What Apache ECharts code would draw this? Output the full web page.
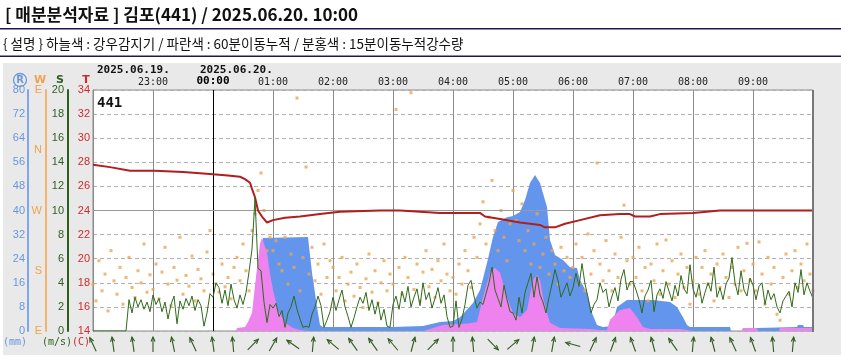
<!DOCTYPE html>
<html><head><meta charset="utf-8">
<script src="https://cdn.jsdelivr.net/npm/echarts@6/dist/echarts.min.js"></script>
<style>html,body{margin:0;padding:0;background:#fff}#c{width:841px;height:359px}</style>
</head><body><div id="c"></div>
<script>
// ---- DATA (minutes counted from 2025.06.19 22:00) ----
const titleText = '[ 매분분석자료 ] 김포(441) / 2025.06.20. 10:00';
const noteText = '{ 설명 } 하늘색 : 강우감지기 / 파란색 : 60분이동누적 / 분홍색 : 15분이동누적강수량';
const stationId = '441';
const timeLabels = ['22:00','23:00','00:00','01:00','02:00','03:00','04:00','05:00','06:00','07:00','08:00','09:00','10:00'];
const dateLabels = ['2025.06.19.','2025.06.20.'];
const dirLabels = ['E','S','W','N','E'];

const tempMinutes = [0,17,37,62,90,107,120,135,147,152,157,159,162,165,169,174,180,192,207,227,247,287,307,347,387,392,407,427,447,452,462,472,487,507,527,537,542,557,567,600,627,720];
const tempValues  = [27.8,27.6,27.3,27.3,27.2,27.1,27.0,26.9,26.8,26.6,26.3,25.8,25.1,24.0,23.5,23.0,23.2,23.4,23.5,23.7,23.9,24.0,24.0,23.8,23.8,23.5,23.3,23.0,22.8,22.6,22.6,22.9,23.2,23.6,23.7,23.7,23.5,23.5,23.7,23.8,24.0,24.0];

const rain60Minutes = [0,160,164,170,172,215,219,224,227,230,300,330,347,360,367,380,387,394,400,405,414,420,427,432,437,442,447,454,457,462,470,477,484,487,494,499,504,510,519,524,534,560,577,584,590,594,597,637,638,649,650,664,704,705,710,711,720];
const rain60Values  = [0,0,10.3,30.9,31.2,31.2,19.3,8.0,2.0,1.3,1.3,1.7,3.0,3.3,4.6,9.3,13.6,22.6,31.2,36.2,37.8,38.2,39.5,43.5,49.1,51.8,49.1,41.2,30.2,25.2,23.6,21.2,20.9,16.9,12.6,6.0,2.0,1.3,1.7,8.0,10.3,10.3,9.6,8.0,4.6,2.0,1.3,1.3,0,0,1.0,1.0,1.3,2.0,2.0,1.3,1.3];

const rain15Minutes = [0,143,144,152,155,159,164,167,169,174,177,180,185,192,200,207,215,330,340,350,375,384,390,397,402,407,414,420,427,434,440,444,447,450,454,457,467,497,507,514,517,527,537,544,550,557,587,600,649,650,664,665,686,687,720];
const rain15Values  = [0,0,1.0,1.3,3.0,6.0,21,29,31,26,19,13.6,7.0,2.7,1.0,0.3,0,0,1.0,2.0,2.5,3.0,11.3,19.3,20.9,19.3,11.3,6.0,4.6,7.0,16.9,18.6,16.9,11.3,6.0,2.7,1.0,0.7,0.3,0.3,3.7,7.0,7.6,4.6,1.3,0.7,0.7,0,0,1.0,1.0,0,0,1.0,1.0];

const sampleStepMin = 3;
const windSpeed = [
0,0,0,0,0,0,0,0,0,0,0,0, 2.6,1.5,2.8,2.0,2.6,1.8,2.4,1.6,
3.0,2.2,2.7,1.6,2.4,1.0,2.2,2.9,0.6,2.5,1.8,2.7,2.1,2.9,1.7,2.6,2.1,0.4,1.5,3.1,
2.8,4.0,3.6,2.3,3.4,2.1,3.9,2.6,1.9,3.0,2.2,3.2,4.9,6.8,11.0,5.2,5.0,2.4,0.7,2.2,
1.9,2.3,1.2,1.7,0.3,1.5,2.0,2.9,1.8,1.0,0.3,0.4,0.3,1.4,2.0,2.9,2.1,0.3,0.9,1.6,
2.8,1.7,2.6,3.4,2.0,1.2,0.3,1.1,2.0,2.8,2.3,3.2,1.7,2.6,1.4,2.4,0.9,1.8,0.4,0.3,
2.2,2.9,1.8,3.3,2.4,3.7,2.0,2.8,3.5,2.1,4.0,2.6,3.2,1.9,2.7,3.6,2.3,3.0,1.2,0.3,
0.4,2.5,0.3,1.0,2.2,3.8,4.2,2.9,1.9,2.4,2.2,3.1,4.0,5.3,3.4,2.7,2.0,3.8,2.6,1.6,
1.5,0.9,2.8,1.5,3.2,4.0,4.8,2.8,4.5,3.0,2.4,1.5,2.8,3.9,5.1,4.2,2.8,3.4,4.0,2.9,
3.6,4.8,3.7,5.6,3.9,2.8,1.5,2.2,2.6,4.0,3.2,3.5,2.0,2.9,3.6,2.5,4.3,5.1,3.4,4.1,
4.1,3.4,2.6,1.5,2.9,3.4,4.2,1.6,3.0,3.5,2.7,4.1,3.3,2.5,3.8,2.9,4.6,3.5,3.1,5.5,
3.5,2.8,3.9,2.3,3.2,4.0,3.3,5.3,2.8,3.6,2.6,3.9,4.4,6.1,4.0,3.0,5.0,3.4,2.9,4.4,
3.8,2.6,3.7,4.0,2.2,3.4,2.6,3.1,2.0,1.5,2.5,2.9,3.3,2.0,4.0,3.2,5.1,3.0,4.0,3.3,2.7
];
const windDir = [
70,45,105,60,85,30,120,75,55,95,40,80,110,65,50,90,72,130,58,84,
62,100,48,88,125,70,38,95,76,140,55,83,67,112,45,92,78,60,118,150,
85,70,58,100,66,80,48,95,110,75,130,90,60,150,175,210,236,180,120,140,
120,135,100,90,140,70,115,95,348,60,110,245,85,125,75,100,55,130,80,105,
95,60,80,110,45,70,88,52,100,65,35,78,115,58,90,42,72,105,60,85,
70,331,95,55,110,80,356,62,100,45,88,120,66,92,50,105,75,130,85,60,
80,55,100,70,120,90,65,140,110,160,193,130,170,225,150,120,180,140,105,160,
210,165,135,190,120,150,100,130,175,95,115,140,85,120,100,70,125,90,110,80,
95,130,70,110,60,145,85,120,251,100,75,135,90,60,115,80,140,188,105,70,
110,80,125,60,95,45,100,75,130,55,90,136,70,105,50,85,115,65,95,40,
75,110,55,95,120,70,85,45,100,65,115,80,50,95,70,125,60,90,131,75,
100,60,133,85,40,110,70,95,25,16,80,115,55,90,120,65,100,75,130,85,60
];
const arrowStepMin = 20;
const arrowDirs = [-25,-8,-8,0,-12,-25,-8,-5,45,30,-55,5,-50,-35,-35,-40,15,45,0,-5,135,50,10,10,-75,25,20,-20,-15,-35,5,-15,-25,-20,-5,5];

// ---- build ----
const pairs = (xs, ys) => xs.map((x, i) => [x, ys[i]]);
const tempData = pairs(tempMinutes, tempValues);
const rain60Data = pairs(rain60Minutes, rain60Values);
const rain15Data = pairs(rain15Minutes, rain15Values);
const speedData = windSpeed.map((v, i) => [i * sampleStepMin, v]);
const dirData = windDir.map((v, i) => [i * sampleStepMin, v]);
const arrowData = arrowDirs.map((d, i) => [i * arrowStepMin, d]);

const chart = echarts.init(document.getElementById('c'));
const mono = '"DejaVu Sans Mono", monospace';
const cR = '#6b97dc', cW = '#f0a24e', cS = '#2e5d1e', cT = '#d02a2a';

chart.setOption({
  animation: false,
  backgroundColor: '#fff',
  graphic: [
    {type:'rect', z:-100, shape:{x:3, y:63, width:838, height:292}, style:{fill:'#e9e9e9'}},
    {type:'text', x:5, y:15, style:{text:titleText, font:'bold 17px "Noto Sans CJK KR"', fill:'#111', verticalAlign:'middle'}},
    {type:'rect', shape:{x:0, y:28, width:841, height:1.5}, style:{fill:'#1c1657'}},
    {type:'text', x:3, y:44, style:{text:noteText, font:'13.5px "Noto Sans CJK KR"', fill:'#111', verticalAlign:'middle'}},
    {type:'rect', shape:{x:0, y:55.5, width:841, height:1.5}, style:{fill:'#1c1657'}},
    {type:'text', x:97, y:70, style:{text:dateLabels[0], font:'bold 11px ' + mono, fill:'#111', verticalAlign:'middle'}},
    {type:'text', x:200, y:70, style:{text:dateLabels[1], font:'bold 11px ' + mono, fill:'#111', verticalAlign:'middle'}},
    {type:'text', x:97, y:103, z:20, style:{text:stationId, font:'bold 14px ' + mono, fill:'#111', verticalAlign:'middle'}},
    {type:'circle', shape:{cx:20, cy:80, r:6.5}, style:{fill:'none', stroke:cR, lineWidth:1.3}},
    {type:'text', x:20, y:80, style:{text:'R', font:'bold 10px "DejaVu Sans"', fill:cR, align:'center', verticalAlign:'middle'}},
    {type:'text', x:40, y:80, style:{text:'W', font:'bold 11px "DejaVu Sans"', fill:cW, align:'center', verticalAlign:'middle'}},
    {type:'text', x:60, y:80, style:{text:'S', font:'bold 11px "DejaVu Sans"', fill:cS, align:'center', verticalAlign:'middle'}},
    {type:'text', x:86, y:80, style:{text:'T', font:'bold 11px "DejaVu Sans"', fill:cT, align:'center', verticalAlign:'middle'}},
    {type:'text', x:3, y:342, style:{text:'(mm)', font:'10px ' + mono, fill:cR, verticalAlign:'middle'}},
    {type:'text', x:42, y:342, style:{text:'(m/s)', font:'10px ' + mono, fill:cS, verticalAlign:'middle'}},
    {type:'text', x:72, y:342, style:{text:'(C)', font:'10px ' + mono, fill:cT, verticalAlign:'middle'}},
    {type:'rect', z:50, shape:{x:812, y:90, width:2, height:242}, style:{fill:'#777'}}
  ],
  grid: [
    {left:93, top:90, width:720, height:241, show:true, backgroundColor:'#fff', borderColor:'#8a8a8a', borderWidth:1},
    {left:93, top:337, width:720, height:15}
  ],
  xAxis: [
    {gridIndex:0, type:'value', min:0, max:720, interval:60, position:'top',
      axisLine:{show:false}, axisTick:{show:false},
      axisLabel:{margin:3, fontFamily:mono, fontSize:10, color:'#222',
        formatter: v => (v === 0 || v === 720) ? '' : (v === 120 ? '{b|' + timeLabels[v/60] + '}' : timeLabels[v/60]),
        rich:{b:{fontFamily:mono, fontSize:11, fontWeight:'bold', color:'#000'}}},
      splitLine:{show:true, lineStyle:{color:'#8a8a8a', width:1}}},
    {gridIndex:1, type:'value', min:0, max:720, show:false}
  ],
  yAxis: [
    {gridIndex:0, type:'value', min:14, max:34, interval:2, position:'left', offset:0,
      axisLine:{show:true, lineStyle:{color:'#8a8a8a'}}, axisTick:{show:false},
      axisLabel:{color:cT, fontFamily:'Liberation Sans', fontSize:11, margin:3},
      splitLine:{show:true, lineStyle:{color:'#b0b0b0', type:[4,3]}}},
    {gridIndex:0, type:'value', min:0, max:20, interval:2, position:'left', offset:25,
      axisLine:{show:true, lineStyle:{color:cS, width:2}}, axisTick:{show:false},
      axisLabel:{color:cS, fontFamily:'Liberation Sans', fontSize:11, margin:4}, splitLine:{show:false}},
    {gridIndex:0, type:'value', min:0, max:360, interval:90, position:'left', offset:47,
      axisLine:{show:true, lineStyle:{color:'#f4b26a', width:2}}, axisTick:{show:false},
      axisLabel:{color:cW, fontFamily:'Liberation Sans', fontSize:11, margin:4, formatter: v => dirLabels[v/90]}, splitLine:{show:false}},
    {gridIndex:0, type:'value', min:0, max:80, interval:8, position:'left', offset:65,
      axisLine:{show:true, lineStyle:{color:'#7ea6e8', width:2}}, axisTick:{show:false},
      axisLabel:{color:cR, fontFamily:'Liberation Sans', fontSize:11, margin:3}, splitLine:{show:false}},
    {gridIndex:1, type:'value', min:0, max:1, show:false}
  ],
  series: [
    {name:'60분이동누적', type:'line', xAxisIndex:0, yAxisIndex:3, data:rain60Data, symbol:'none', z:2,
      lineStyle:{width:0}, areaStyle:{color:'#6495ED', opacity:1}, itemStyle:{color:'#6495ED'}},
    {name:'15분이동누적', type:'line', xAxisIndex:0, yAxisIndex:3, data:rain15Data, symbol:'none', z:3,
      lineStyle:{width:0}, areaStyle:{color:'#EE82EE', opacity:1}, itemStyle:{color:'#EE82EE'}},
    {name:'풍향', type:'scatter', xAxisIndex:0, yAxisIndex:2, data:dirData, symbol:'rect', symbolSize:3, z:4,
      itemStyle:{color:'#eba553'}},
    {name:'기온', type:'line', xAxisIndex:0, yAxisIndex:0, data:tempData, symbol:'none', z:5,
      lineStyle:{color:'#b21d1d', width:2},
      markLine:{silent:true, symbol:'none', label:{show:false},
        data:[{xAxis:120, lineStyle:{color:'#000', type:'solid', width:1}},
              {yAxis:24, lineStyle:{color:'#9a9a9a', type:'solid', width:1}}]}},
    {name:'풍속', type:'line', xAxisIndex:0, yAxisIndex:1, data:speedData, symbol:'none', z:6,
      lineStyle:{color:'#2f6a1a', width:1}},
    {name:'풍향화살표', type:'custom', xAxisIndex:1, yAxisIndex:4, data:arrowData, clip:false,
      renderItem: function (params, api) {
        const c = api.coord([api.value(0), 0.5]);
        const r = api.value(1) * Math.PI / 180;
        const L = 7.5, hl = 5, ha = 0.42;
        const dx = Math.sin(r), dy = -Math.cos(r);
        const hx = c[0] + dx * L, hy = c[1] + dy * L;
        const tx = c[0] - dx * L, ty = c[1] - dy * L;
        const b1 = [hx - hl * Math.sin(r - ha), hy + hl * Math.cos(r - ha)];
        const b2 = [hx - hl * Math.sin(r + ha), hy + hl * Math.cos(r + ha)];
        const st = {stroke:'#2e5a1e', lineWidth:1.1, fill:null};
        return {type:'group', children:[
          {type:'line', shape:{x1:tx, y1:ty, x2:hx, y2:hy}, style:st},
          {type:'polyline', shape:{points:[b1, [hx, hy], b2]}, style:st}
        ]};
      }}
  ]
});
</script></body></html>
